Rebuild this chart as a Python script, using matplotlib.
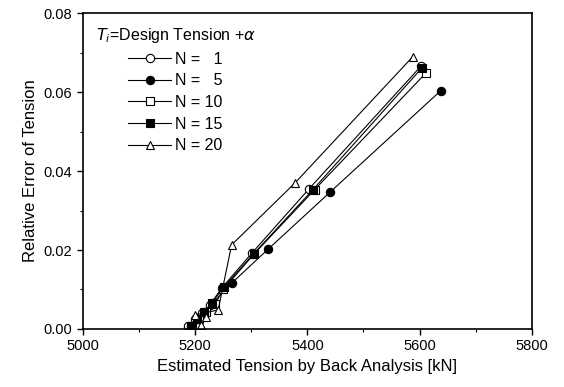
import matplotlib.pyplot as plt
from matplotlib.ticker import MultipleLocator

plt.rcParams['font.family'] = ['Liberation Sans', 'DejaVu Sans']

# estimated tension [kN] and relative error
x_n1 = [5188, 5200, 5212, 5226, 5247, 5301, 5403, 5602]
y_n1 = [0.0008, 0.0025, 0.0040, 0.0060, 0.0103, 0.0192, 0.0355, 0.0665]

x_n5 = [5193, 5205, 5218, 5231, 5265, 5330, 5440, 5638]
y_n5 = [0.0008, 0.0025, 0.0043, 0.0065, 0.0116, 0.0202, 0.0346, 0.0604]

x_n10 = [5195, 5207, 5220, 5235, 5250, 5305, 5413, 5611]
y_n10 = [0.0008, 0.0025, 0.0042, 0.0062, 0.0100, 0.0190, 0.0353, 0.0648]

x_n15 = [5192, 5204, 5216, 5230, 5251, 5304, 5410, 5604]
y_n15 = [0.0008, 0.0026, 0.0044, 0.0066, 0.0106, 0.0190, 0.0353, 0.0661]

x_n20 = [5211, 5220, 5200, 5241, 5265, 5378, 5588]
y_n20 = [0.0010, 0.0031, 0.0036, 0.0048, 0.0213, 0.0370, 0.0690]

labels = ["N =   1", "N =   5", "N = 10", "N = 15", "N = 20"]

fig = plt.figure(figsize=(5.64, 3.87), dpi=100)
ax = fig.add_axes([0.147, 0.150, 0.796, 0.816])

series = [
    (x_n1, y_n1, 'o', 'white'),
    (x_n5, y_n5, 'o', 'black'),
    (x_n10, y_n10, 's', 'white'),
    (x_n15, y_n15, 's', 'black'),
    (x_n20, y_n20, '^', 'white'),
]
for (xs, ys, m, fc), lab in zip(series, labels):
    ax.plot(xs, ys, color='black', lw=0.8, marker=m, markersize=6,
            markerfacecolor=fc, markeredgecolor='black', markeredgewidth=0.8,
            label=lab)

ax.set_xlim(5000, 5800)
ax.set_ylim(0, 0.08)
ax.xaxis.set_major_locator(MultipleLocator(200))
ax.xaxis.set_minor_locator(MultipleLocator(100))
ax.yaxis.set_major_locator(MultipleLocator(0.02))
ax.yaxis.set_minor_locator(MultipleLocator(0.01))
ax.yaxis.set_major_formatter(plt.FuncFormatter(lambda v, p: f"{v:.2f}"))
ax.tick_params(which='major', direction='out', length=4, width=1, labelsize=10.5)
ax.tick_params(which='minor', direction='out', length=2.5, width=0.8)
for s in ax.spines.values():
    s.set_linewidth(1.2)

ax.set_xlabel("Estimated Tension by Back Analysis [kN]", fontsize=12)
ax.set_ylabel("Relative Error of Tension", fontsize=12)

leg = ax.legend(title=r"$T_i$=Design Tension +$\alpha$", loc='upper left',
                frameon=False, fontsize=11.5, title_fontsize=11.5,
                handlelength=2.7, handletextpad=0.25, labelspacing=0.42,
                borderaxespad=0.4)

fig.savefig("out.png", dpi=100)
